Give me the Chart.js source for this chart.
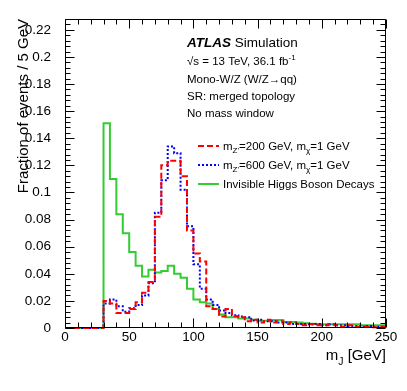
<!DOCTYPE html>
<html>
<head>
<meta charset="utf-8">
<script src="https://cdn.jsdelivr.net/npm/chart.js@4.4.1/dist/chart.umd.min.js"></script>
<style>
html, body { margin: 0; padding: 0; background: #fff; }
#contenedor { width: 407px; height: 391px; }
</style>
</head>
<body>
<div id="contenedor"><canvas id="grafico" width="407" height="391"></canvas></div>
<script>
// bordes inferiores de los bins de 5 GeV
const bordesBins = [0, 5, 10, 15, 20, 25, 30, 35, 40, 45, 50, 55, 60, 65, 70, 75, 80, 85, 90, 95,
    100, 105, 110, 115, 120, 125, 130, 135, 140, 145, 150, 155, 160, 165, 170, 175, 180, 185, 190, 195,
    200, 205, 210, 215, 220, 225, 230, 235, 240, 245];
const limiteX = 250;

const mz200 = [0, 0, 0, 0, 0, 0,
    0.020, 0.018, 0.011, 0.011, 0.014, 0.019, 0.026, 0.034, 0.082, 0.120,
    0.1235, 0.1235, 0.112, 0.072, 0.055, 0.049, 0.016, 0.014, 0.0085, 0.014,
    0.0086, 0.008, 0.005, 0.006, 0.004, 0.006, 0.004, 0.005, 0.003, 0.004,
    0.003, 0.002, 0.003, 0.002, 0.002, 0.003, 0.002, 0.001, 0.002, 0.001,
    0.001, 0.001, 0.0005, 0.001];

const mz600 = [0, 0, 0, 0, 0, 0,
    0.018, 0.021, 0.016, 0.012, 0.0145, 0.017, 0.024, 0.033, 0.085, 0.109,
    0.134, 0.129, 0.102, 0.075, 0.047, 0.029, 0.021, 0.017, 0.013, 0.011,
    0.0095, 0.0085, 0.008, 0.0055, 0.006, 0.005, 0.005, 0.004, 0.004, 0.003,
    0.003, 0.003, 0.0025, 0.003, 0.002, 0.0025, 0.002, 0.002, 0.0015, 0.0015,
    0.001, 0.0015, 0.001, 0.001];

const higgsInvisible = [0, 0, 0, 0, 0, 0,
    0.151, 0.110, 0.084, 0.070, 0.056, 0.046, 0.038, 0.043, 0.041, 0.042,
    0.046, 0.040, 0.037, 0.029, 0.021, 0.019, 0.018, 0.014, 0.010, 0.008,
    0.008, 0.007, 0.007, 0.006, 0.0053, 0.0053, 0.0059, 0.0059, 0.0045, 0.0045,
    0.004, 0.0035, 0.0032, 0.003, 0.0027, 0.0027, 0.0027, 0.0027, 0.0027, 0.0027,
    0.002, 0.002, 0.002, 0.002];

const ticksX = [0, 50, 100, 150, 200, 250];
const ticksY = [0, 0.02, 0.04, 0.06, 0.08, 0.1, 0.12, 0.14, 0.16, 0.18, 0.2, 0.22];

const lineasTexto = ['Mono-W/Z (W/Z\u2192qq)', 'SR: merged topology', 'No mass window'];

const fuente = '"Liberation Sans", Arial, Helvetica, sans-serif';

function puntosHistograma(valores) {
    const puntos = bordesBins.map((x, i) => ({x: x, y: valores[i]}));
    puntos.push({x: limiteX, y: valores[valores.length - 1]});
    return puntos;
}

// texto con subindices: partes = [[texto, esSub], ...]
function textoCompuesto(ctx, partes, x, y, tam) {
    let posX = x;
    partes.forEach(([t, sub]) => {
        ctx.font = (sub ? tam * 0.7 : tam) + 'px ' + fuente;
        ctx.fillText(t, posX, sub ? y + tam * 0.3 : y);
        posX += ctx.measureText(t).width;
    });
    return posX;
}

function anchoCompuesto(ctx, partes, tam) {
    let ancho = 0;
    partes.forEach(([t, sub]) => {
        ctx.font = (sub ? tam * 0.7 : tam) + 'px ' + fuente;
        ancho += ctx.measureText(t).width;
    });
    return ancho;
}

const decoracion = {
    id: 'decoracion',
    afterDraw(chart) {
        const {ctx, chartArea: a, scales: {x, y}} = chart;
        const l = Math.round(a.left) + 0.5, r = Math.round(a.right) - 0.5;
        const t = Math.round(a.top) + 0.5, b = Math.round(a.bottom) - 0.5;
        ctx.save();
        ctx.strokeStyle = '#000';
        ctx.lineWidth = 1;
        ctx.beginPath();
        ctx.rect(l, t, r - l, b - t);

        // marcas del eje x (menores cada 10)
        for (let v = 0; v <= 250; v += 10) {
            const px = Math.round(x.getPixelForValue(v)) + 0.5;
            const largo = v % 50 === 0 ? 9 : 5;
            ctx.moveTo(px, b); ctx.lineTo(px, b - largo);
            ctx.moveTo(px, t); ctx.lineTo(px, t + largo);
        }
        // marcas del eje y (menores cada 0.004)
        for (let k = 0; k * 0.004 <= y.max + 1e-9; k++) {
            const py = Math.round(y.getPixelForValue(k * 0.004)) + 0.5;
            const largo = k % 5 === 0 ? 9 : 5;
            ctx.moveTo(l, py); ctx.lineTo(l + largo, py);
            ctx.moveTo(r, py); ctx.lineTo(r - largo, py);
        }
        ctx.stroke();

        ctx.fillStyle = '#000';
        ctx.textAlign = 'left';
        ctx.textBaseline = 'alphabetic';

        // titulo eje y
        ctx.save();
        ctx.translate(28, a.top);
        ctx.rotate(-Math.PI / 2);
        ctx.textAlign = 'right';
        ctx.font = '15px ' + fuente;
        ctx.fillText('Fraction of events / 5 GeV', 0, 0);
        ctx.restore();

        // titulo eje x
        const partesX = [['m', false], ['J', true], [' [GeV]', false]];
        textoCompuesto(ctx, partesX, a.right - anchoCompuesto(ctx, partesX, 15), 360, 15);

        // bloque ATLAS
        const x0 = 187;
        ctx.font = 'italic bold 13.5px ' + fuente;
        ctx.fillText('ATLAS', x0, 47);
        const anchoAtlas = ctx.measureText('ATLAS ').width;
        ctx.font = '13.5px ' + fuente;
        ctx.fillText('Simulation', x0 + anchoAtlas, 47);

        ctx.font = '11.5px ' + fuente;
        const base = '\u221As = 13 TeV, 36.1 fb';
        ctx.fillText(base, x0, 65);
        const anchoBase = ctx.measureText(base).width;
        ctx.font = '8px ' + fuente;
        ctx.fillText('-1', x0 + anchoBase, 60);

        ctx.font = '11.5px ' + fuente;
        lineasTexto.forEach((linea, i) => ctx.fillText(linea, x0, 83 + i * 17.2));

        // leyenda
        const filas = [
            {color: '#ff0000', dash: [6, 3], partes: [['m', false], ["Z'", true], ['=200 GeV, m', false], ['\u03C7', true], ['=1 GeV', false]]},
            {color: '#0000ff', dash: [2, 2], partes: [['m', false], ["Z'", true], ['=600 GeV, m', false], ['\u03C7', true], ['=1 GeV', false]]},
            {color: '#33cc33', dash: [], partes: [['Invisible Higgs Boson Decays', false]]}
        ];
        filas.forEach((f, i) => {
            const yl = 146 + i * 19;
            ctx.save();
            ctx.strokeStyle = f.color;
            ctx.lineWidth = 2;
            ctx.setLineDash(f.dash);
            ctx.beginPath();
            ctx.moveTo(198, yl);
            ctx.lineTo(219, yl);
            ctx.stroke();
            ctx.restore();
            textoCompuesto(ctx, f.partes, 223, yl + 4, 11.5);
        });
        ctx.restore();
    }
};

new Chart(document.querySelector('#grafico'), {
    type: 'line',
    data: {
        datasets: [
            {
                label: "m_Z'=200 GeV, m_chi=1 GeV",
                data: puntosHistograma(mz200),
                borderColor: '#ff0000',
                borderDash: [6, 3],
                borderWidth: 2,
                stepped: true,
                pointRadius: 0,
                fill: false,
                clip: 3
            },
            {
                label: "m_Z'=600 GeV, m_chi=1 GeV",
                data: puntosHistograma(mz600),
                borderColor: '#0000ff',
                borderDash: [2, 2],
                borderWidth: 2,
                stepped: true,
                pointRadius: 0,
                fill: false,
                clip: 3
            },
            {
                label: 'Invisible Higgs Boson Decays',
                data: puntosHistograma(higgsInvisible),
                borderColor: '#33cc33',
                borderWidth: 2,
                stepped: true,
                pointRadius: 0,
                fill: false,
                clip: 3
            }
        ]
    },
    options: {
        responsive: false,
        animation: false,
        layout: {padding: {top: 19, right: 21, left: 0, bottom: 0}},
        plugins: {legend: {display: false}, tooltip: {enabled: false}},
        scales: {
            x: {
                type: 'linear',
                min: 0,
                max: 250,
                grid: {display: false},
                border: {display: false},
                afterFit: s => { s.height = 63; },
                afterBuildTicks: s => { s.ticks = ticksX.map(v => ({value: v})); },
                ticks: {
                    padding: -7,
                    maxRotation: 0,
                    color: '#000',
                    font: {family: fuente, size: 13.5},
                    callback: v => String(v)
                }
            },
            y: {
                type: 'linear',
                min: 0,
                max: 0.228,
                grid: {display: false},
                border: {display: false},
                afterFit: s => { s.width = 65; },
                afterBuildTicks: s => { s.ticks = ticksY.map(v => ({value: v})); },
                ticks: {
                    padding: 6,
                    color: '#000',
                    font: {family: fuente, size: 13.5},
                    callback: v => String(+v.toFixed(3))
                }
            }
        }
    },
    plugins: [decoracion]
});
</script>
</body>
</html>
